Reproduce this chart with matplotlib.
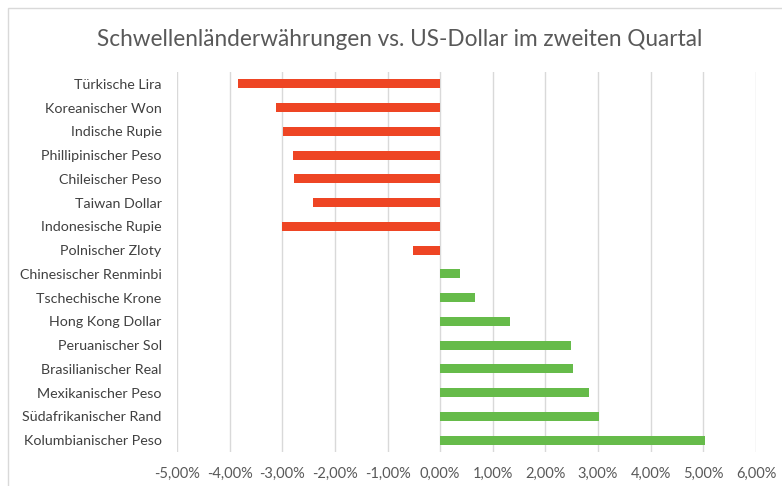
import matplotlib
matplotlib.use("Agg")
import matplotlib.pyplot as plt
from matplotlib.ticker import FuncFormatter, MultipleLocator
from matplotlib.patches import Rectangle

categories = ["Türkische Lira", "Koreanischer Won", "Indische Rupie", "Phillipinischer Peso",
              "Chileischer Peso", "Taiwan Dollar", "Indonesische Rupie", "Polnischer Zloty",
              "Chinesischer Renminbi", "Tschechische Krone", "Hong Kong Dollar", "Peruanischer Sol",
              "Brasilianischer Real", "Mexikanischer Peso", "Südafrikanischer Rand", "Kolumbianischer Peso"]
values = [-3.84, -3.12, -2.98, -2.79, -2.77, -2.41, -3.00, -0.51,
          0.37, 0.67, 1.32, 2.48, 2.52, 2.83, 3.02, 5.03]
title = "Schwellenländerwährungen vs. US-Dollar im zweiten Quartal"

plt.rcParams['font.family'] = ['Lato', 'DejaVu Sans']
fig = plt.figure(figsize=(7.82, 4.86), dpi=100)
ax = fig.add_axes([177/782, 1-452/486, (756-177)/782, (452-72)/486])

red = "#EE4524"
green = "#66BB4A"
colors = [red if v < 0 else green for v in values]
ypos = list(range(len(categories)))
ax.barh(ypos, values, height=0.37, color=colors, zorder=3)
ax.set_ylim(len(categories) - 0.5, -0.5)
ax.set_yticks(ypos)
ax.set_yticklabels(categories, fontsize=10.3, color="#404040")
ax.set_xlim(-5, 6)
ax.xaxis.set_major_locator(MultipleLocator(1))
ax.xaxis.set_major_formatter(FuncFormatter(lambda v, p: ("%.2f%%" % v).replace(".", ",").replace("-0,00", "0,00")))
ax.tick_params(axis='x', labelsize=10.5, colors="#595959", length=0, pad=11)
ax.tick_params(axis='y', length=0, pad=11)
ax.grid(axis='x', color="#D9D9D9", linewidth=1, zorder=0)
for s in ax.spines.values():
    s.set_visible(False)

fig.text(400/782, 1-40/486, title, ha='center', va='center', fontsize=16.3, color="#595959")
fig.patches.append(Rectangle((8/782, -0.1), 1.2, 1.1 - 8/486, transform=fig.transFigure,
                             fill=False, edgecolor="#D9D9D9", linewidth=1))
fig.savefig("out.png", dpi=100)
